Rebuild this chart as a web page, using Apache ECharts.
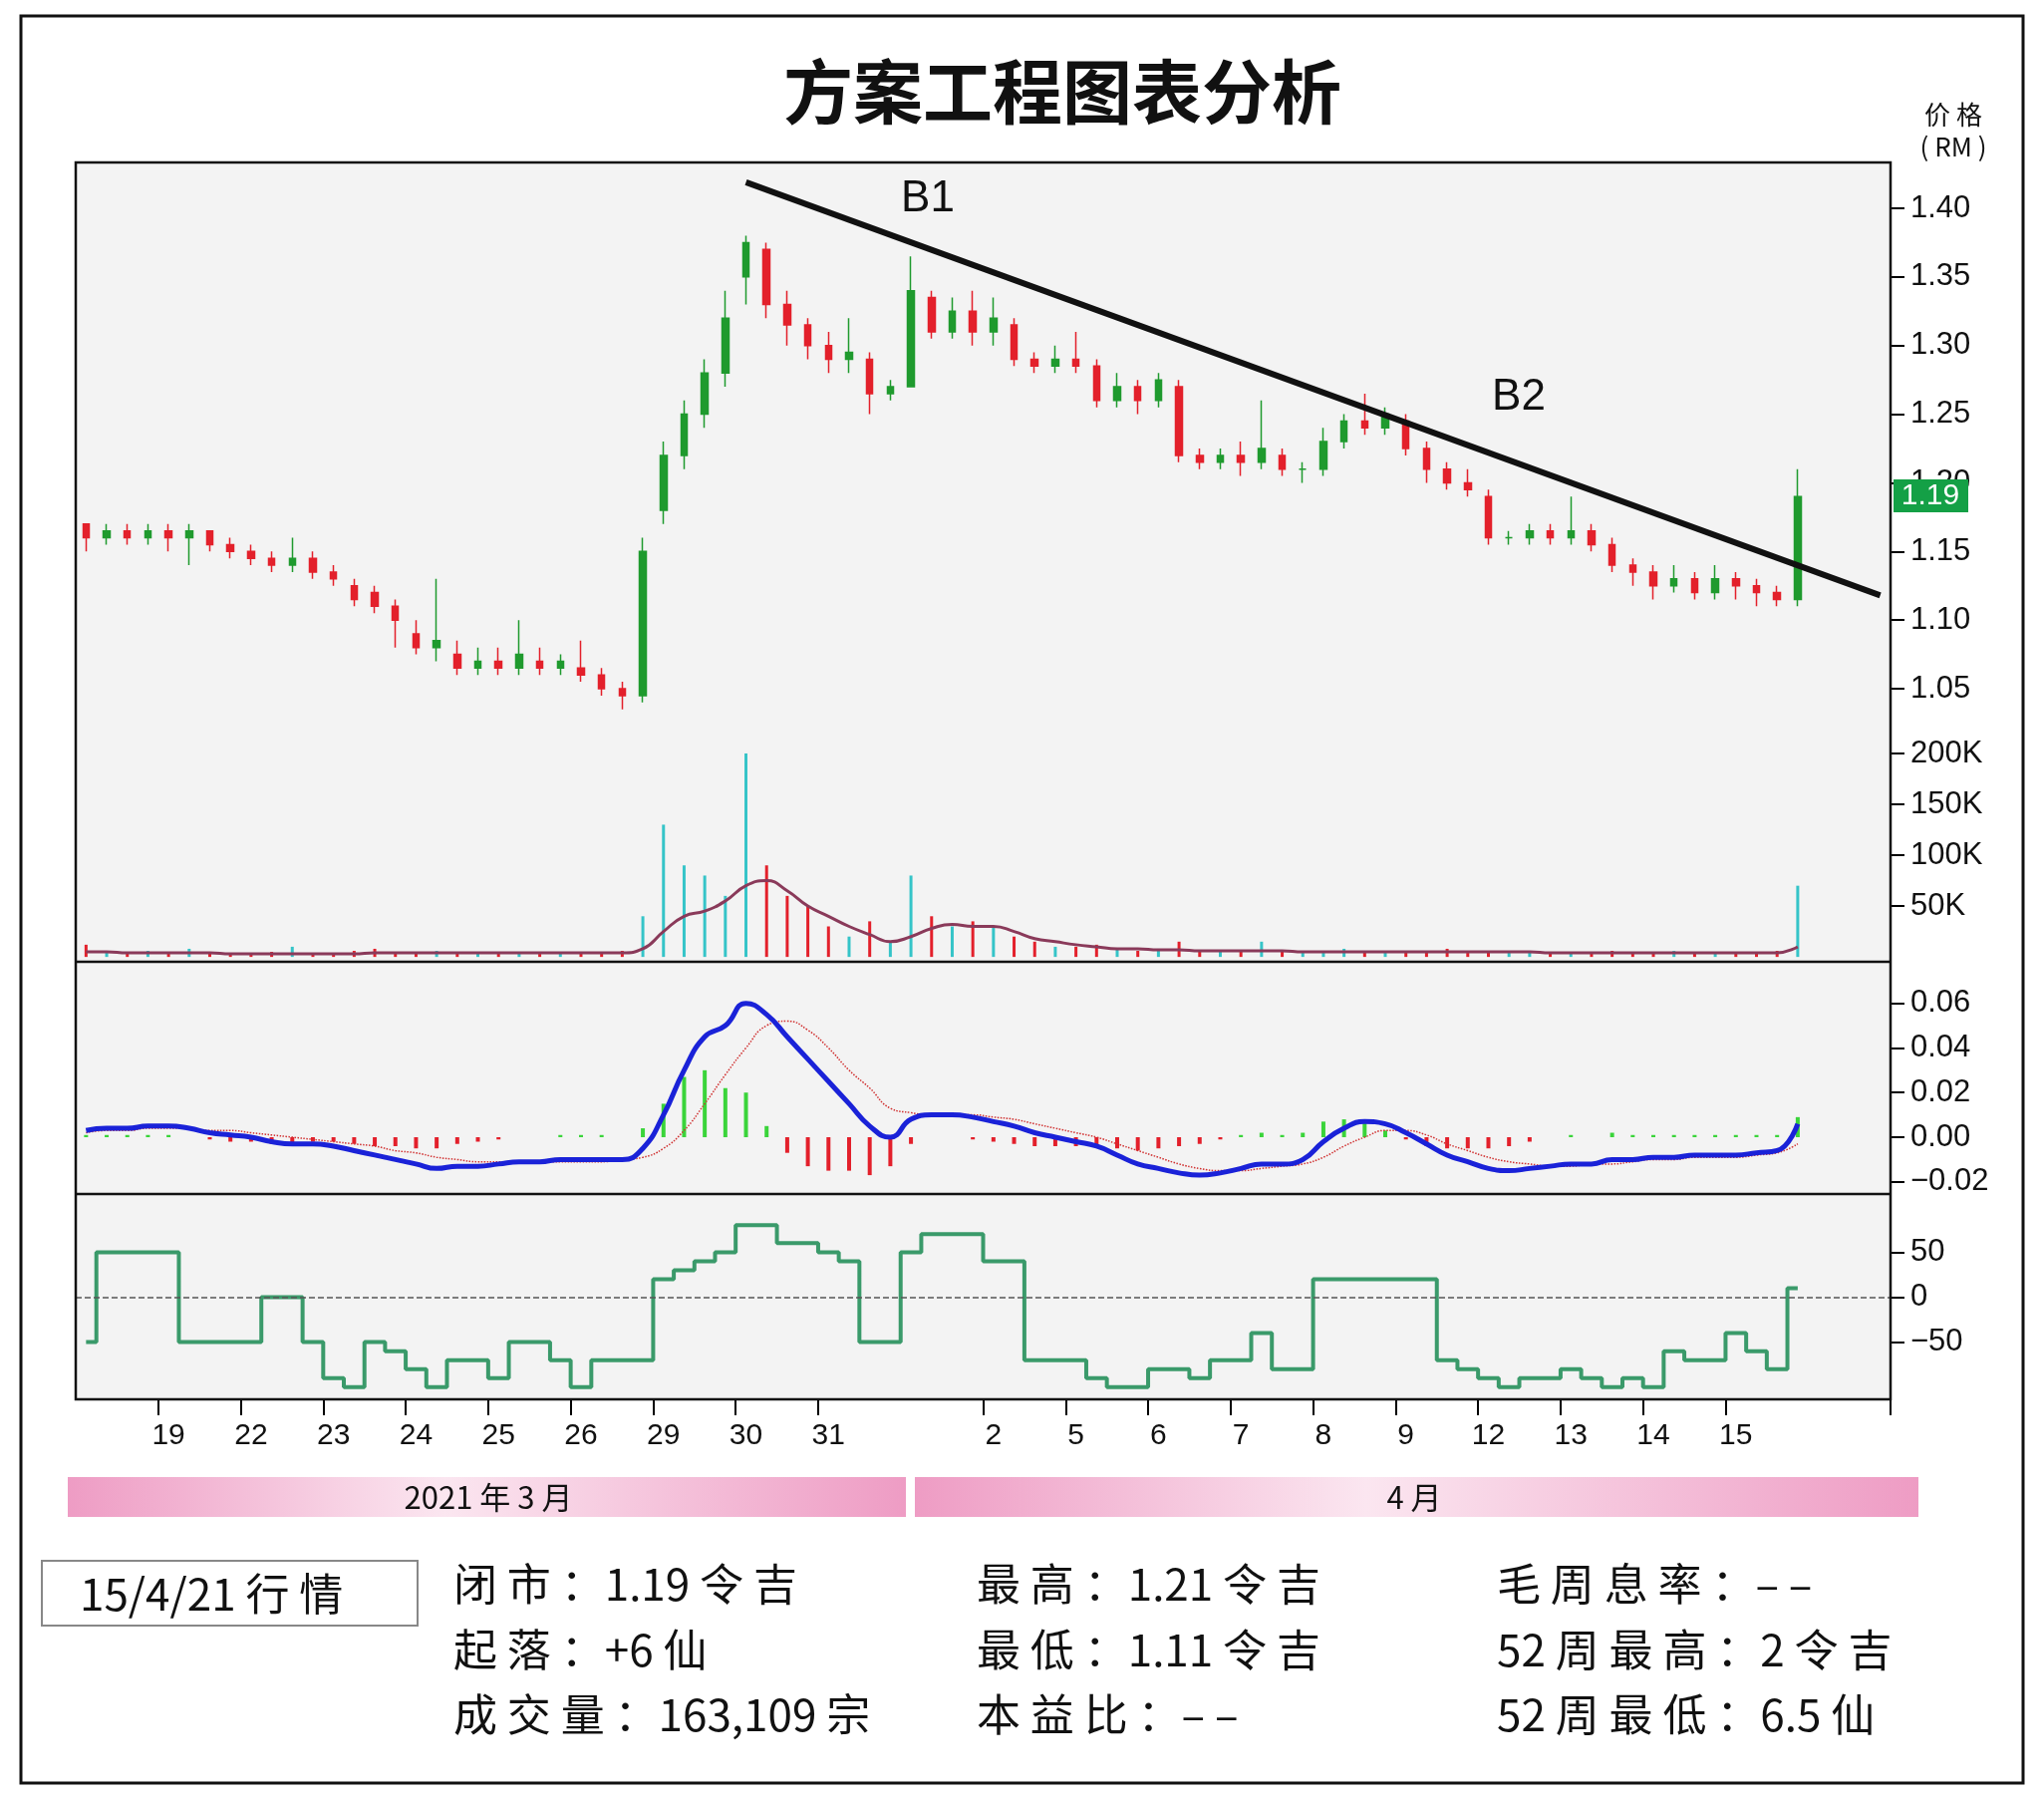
<!DOCTYPE html>
<html>
<head>
<meta charset="utf-8">
<script src="https://cdn.jsdelivr.net/npm/echarts@6/dist/echarts.min.js"></script>
<style>
html,body{margin:0;padding:0;background:#fff;}
#main{width:2051px;height:1803px;}
</style>
</head>
<body>
<div id="main"></div>
<script>
// trading days, 4 candles per day
var days = ['18', '19', '22', '23', '24', '25', '26', '29', '30', '31', '1', '2', '5', '6', '7', '8', '9', '12', '13', '14', '15'];
var hiddenDays = ['18', '1'];

// [open, close, low, high]
var candles = [
    [1.17,1.16,1.15,1.17],[1.16,1.165,1.155,1.17],[1.165,1.16,1.155,1.17],[1.16,1.165,1.155,1.17],
    [1.165,1.16,1.15,1.17],[1.16,1.165,1.14,1.17],[1.165,1.155,1.15,1.165],[1.155,1.15,1.145,1.16],
    [1.15,1.145,1.14,1.155],[1.145,1.14,1.135,1.15],[1.14,1.145,1.135,1.16],[1.145,1.135,1.13,1.15],
    [1.135,1.13,1.125,1.14],[1.125,1.115,1.11,1.13],[1.12,1.11,1.105,1.125],[1.11,1.1,1.08,1.115],
    [1.09,1.08,1.075,1.1],[1.08,1.085,1.07,1.13],[1.075,1.065,1.06,1.085],[1.065,1.07,1.06,1.08],
    [1.07,1.065,1.06,1.08],[1.065,1.075,1.06,1.1],[1.07,1.065,1.06,1.08],[1.065,1.07,1.06,1.075],
    [1.065,1.06,1.055,1.085],[1.06,1.05,1.045,1.065],[1.05,1.045,1.035,1.055],[1.045,1.15,1.04,1.16],
    [1.18,1.22,1.17,1.23],[1.22,1.25,1.21,1.26],[1.25,1.28,1.24,1.29],[1.28,1.32,1.27,1.34],
    [1.35,1.375,1.33,1.38],[1.37,1.33,1.32,1.375],[1.33,1.315,1.3,1.34],[1.315,1.3,1.29,1.32],
    [1.3,1.29,1.28,1.31],[1.29,1.295,1.28,1.32],[1.29,1.265,1.25,1.295],[1.265,1.27,1.26,1.275],
    [1.27,1.34,1.27,1.365],[1.335,1.31,1.305,1.34],[1.31,1.325,1.305,1.335],[1.325,1.31,1.3,1.34],
    [1.31,1.32,1.3,1.335],[1.315,1.29,1.285,1.32],[1.29,1.285,1.28,1.295],[1.285,1.29,1.28,1.3],
    [1.29,1.285,1.28,1.31],[1.285,1.26,1.255,1.29],[1.26,1.27,1.255,1.28],[1.27,1.26,1.25,1.275],
    [1.26,1.275,1.255,1.28],[1.27,1.22,1.215,1.275],[1.22,1.215,1.21,1.225],[1.215,1.22,1.21,1.225],
    [1.22,1.215,1.205,1.23],[1.215,1.225,1.21,1.26],[1.22,1.21,1.205,1.225],[1.21,1.21,1.2,1.215],
    [1.21,1.23,1.205,1.24],[1.23,1.245,1.225,1.25],[1.245,1.24,1.235,1.265],[1.24,1.25,1.235,1.255],
    [1.245,1.225,1.22,1.25],[1.225,1.21,1.2,1.23],[1.21,1.2,1.195,1.215],[1.2,1.195,1.19,1.21],
    [1.19,1.16,1.155,1.195],[1.16,1.16,1.155,1.165],[1.16,1.165,1.155,1.17],[1.165,1.16,1.155,1.17],
    [1.16,1.165,1.155,1.19],[1.165,1.155,1.15,1.17],[1.155,1.14,1.135,1.16],[1.14,1.135,1.125,1.145],
    [1.135,1.125,1.115,1.14],[1.125,1.13,1.12,1.14],[1.13,1.12,1.115,1.135],[1.12,1.13,1.115,1.14],
    [1.13,1.125,1.115,1.135],[1.125,1.12,1.11,1.13],[1.12,1.115,1.11,1.125],[1.115,1.19,1.11,1.21]
];

// volume in K
var volume = [
    12,5,4,6, 5,8,4,3, 3,5,10,3, 4,6,8,5, 5,6,4,4, 4,5,3,4, 4,5,6,40,
    130,90,80,60, 200,90,60,50, 30,20,35,15, 80,40,30,35, 30,20,15,10,
    10,12,8,6, 8,15,6,5, 5,15,6,4, 4,8,6,5, 6,5,8,4, 5,4,6,4,
    4,5,6,4, 4,6,5,4, 5,4,6,70
];
var volumeMA = [
    5,5,4,4, 4,4,4,3, 3,3,3,3, 3,3,4,4, 4,4,4,4, 4,4,4,4, 4,4,4,8,
    25,40,45,55, 70,75,65,50, 40,30,22,15, 20,28,32,30, 30,25,18,15,
    12,10,8,8, 7,7,6,6, 6,6,6,5, 5,5,5,5, 5,5,5,5, 5,5,5,4,
    4,4,4,4, 4,4,4,4, 4,4,4,10
];

var macdLine = [
    .003,.004,.004,.005, .005,.004,.002,.001, 0,-.002,-.003,-.003, -.004,-.006,-.008,-.01,
    -.012,-.014,-.013,-.013, -.012,-.011,-.011,-.01, -.01,-.01,-.01,-.005,
    .01,.03,.045,.05, .06,.055,.045,.035, .025,.015,.005,0, .008,.01,.01,.009,
    .007,.005,.002,0, -.002,-.004,-.008,-.012, -.014,-.016,-.017,-.016, -.014,-.012,-.012,-.01,
    -.002,.004,.007,.006, .002,-.003,-.008,-.011, -.014,-.015,-.014,-.013, -.012,-.012,-.01,-.01,
    -.009,-.009,-.008,-.008, -.008,-.007,-.006,.006
];
var signalLine = [
    .002,.003,.003,.004, .004,.004,.003,.003, .002,.001,0,-.001, -.002,-.003,-.004,-.006,
    -.007,-.009,-.01,-.011, -.011,-.011,-.011,-.011, -.011,-.011,-.01,-.009,
    -.005,.003,.015,.028, .04,.05,.052,.048, .04,.03,.022,.013, .011,.01,.01,.01,
    .009,.008,.006,.004, .002,0,-.003,-.006, -.009,-.012,-.014,-.015, -.015,-.014,-.013,-.012,
    -.009,-.004,0,.003, .003,.001,-.003,-.006, -.009,-.011,-.012,-.013, -.013,-.012,-.012,-.011,
    -.01,-.01,-.009,-.009, -.009,-.008,-.007,-.003
];

var aroon = [
    -50,50,50,50, 50,-50,-50,-50, -50,0,0,-50, -90,-100,-50,-60, -80,-100,-70,-70,
    -90,-50,-50,-70, -100,-70,-70,-70, 20,30,40,50, 80,80,60,60, 50,40,-50,-50,
    50,70,70,70, 40,40,-70,-70, -70,-90,-100,-100, -80,-80,-90,-70, -70,-40,-80,-80,
    20,20,20,20, 20,20,-70,-80, -90,-100,-90,-90, -80,-90,-100,-90, -100,-60,-70,-70,
    -40,-60,-80,10
];

var trendLine = [[32, 1.419], [87, 1.118]];
var priceTicks = [1.05, 1.10, 1.15, 1.20, 1.25, 1.30, 1.35, 1.40];
var volTicks = [50, 100, 150, 200];
var macdTicks = [-0.02, 0, 0.02, 0.04, 0.06];
var aroonTicks = [-50, 0, 50];

var PER_DAY = 4;
var cats = [];
for (var i = 0; i < days.length * PER_DAY + 4; i++) cats.push('c' + i);

var UP = '#1f9a2e', DOWN = '#e3202b';
var isUp = candles.map(function (c) { return c[1] >= c[0]; });

function dayLabel(v, idx) {
    var d = days[Math.floor(idx / PER_DAY)];
    return (d && hiddenDays.indexOf(d) < 0) ? d : '';
}
function dayStart(idx) {
    var d = days[Math.floor(idx / PER_DAY)];
    return idx % PER_DAY === 0 && d && hiddenDays.indexOf(d) < 0;
}

var L = 76, W = 1821;
var grids = [
    {left: L, width: W, top: 163, height: 570},
    {left: L, width: W, top: 733, height: 231},
    {left: L, width: W, top: 965, height: 232},
    {left: L, width: W, top: 1198, height: 206}
];
var xAxes = grids.map(function (g, k) {
    return {
        type: 'category', gridIndex: k, data: cats, boundaryGap: true,
        axisLine: {show: false, onZero: false}, splitLine: {show: false},
        axisTick: {show: k === 3, interval: dayStart, length: 16, inside: false, lineStyle: {color: '#000', width: 2}},
        axisLabel: {show: k === 3, interval: dayStart, formatter: dayLabel, fontSize: 30, color: '#111', margin: 22, fontFamily: 'Liberation Sans'}
    };
});
function yAx(k, min, max, ticks, fmt) {
    return {
        type: 'value', gridIndex: k, position: 'right', min: min, max: max,
        splitLine: {show: false}, axisLine: {show: false},
        axisTick: {show: true, length: 14, lineStyle: {color: '#000', width: 2}, customValues: ticks},
        axisLabel: {show: true, customValues: ticks, formatter: fmt, fontSize: 31, color: '#111', margin: 20, fontFamily: 'Liberation Sans'}
    };
}
var yAxes = [
    yAx(0, 1.0195, 1.4334, priceTicks, function (v) { return v.toFixed(2); }),
    yAx(1, -3.8, 222.5, volTicks, function (v) { return v + 'K'; }),
    yAx(2, -0.025, 0.0786, macdTicks, function (v) { return (v < 0 ? '−' : '') + Math.abs(v).toFixed(2); }),
    yAx(3, -113.6, 114.7, aroonTicks, function (v) { return v < 0 ? '−' + (-v) : '' + v; })
];

var hist = macdLine.map(function (v, i) { return +(v - signalLine[i]).toFixed(4); });

var infoFont = '44px "Noto Sans CJK SC"';
function info(x, y, t) {
    return {type: 'text', x: x, y: y, style: {text: t, font: infoFont, fill: '#111', verticalAlign: 'middle', letterSpacing: 5}};
}

var option = {
    animation: false,
    backgroundColor: '#fff',
    grid: grids.map(function (g) { return Object.assign({show: true, backgroundColor: '#f3f3f3', borderWidth: 0}, g); }),
    xAxis: xAxes,
    yAxis: yAxes,
    series: [
        {
            type: 'candlestick', xAxisIndex: 0, yAxisIndex: 0, data: candles, barWidth: 7,
            itemStyle: {color: UP, color0: DOWN, borderColor: UP, borderColor0: DOWN, borderWidth: 1.5},
            markLine: {
                symbol: 'none', silent: true, label: {show: false},
                lineStyle: {color: '#111', width: 6, type: 'solid'},
                data: [[{coord: trendLine[0]}, {coord: trendLine[1]}]]
            }
        },
        {
            type: 'bar', xAxisIndex: 1, yAxisIndex: 1, barWidth: 3,
            data: volume.map(function (v, i) {
                return {value: v, itemStyle: {color: isUp[i] ? '#35c4c8' : '#e3202b'}};
            })
        },
        {
            type: 'line', xAxisIndex: 1, yAxisIndex: 1, data: volumeMA, showSymbol: false, smooth: true,
            lineStyle: {color: '#8a3a5a', width: 3}
        },
        {
            type: 'bar', xAxisIndex: 2, yAxisIndex: 2, barWidth: 4,
            data: hist.map(function (v) { return {value: v, itemStyle: {color: v >= 0 ? '#3ad43a' : '#e3202b'}}; })
        },
        {
            type: 'line', xAxisIndex: 2, yAxisIndex: 2, data: signalLine, showSymbol: false, smooth: true,
            lineStyle: {color: '#d03030', width: 1.5, type: 'dotted'}
        },
        {
            type: 'line', xAxisIndex: 2, yAxisIndex: 2, data: macdLine, showSymbol: false, smooth: true,
            lineStyle: {color: '#1a22d8', width: 5}
        },
        {
            type: 'line', xAxisIndex: 3, yAxisIndex: 3, data: aroon, showSymbol: false, step: 'middle',
            lineStyle: {color: '#3a9a6a', width: 4},
            markLine: {
                symbol: 'none', silent: true, label: {show: false},
                lineStyle: {color: '#555', width: 1.5, type: 'dashed'},
                data: [{yAxis: 0}]
            }
        }
    ],
    graphic: [
        {type: 'rect', shape: {x: 21, y: 16, width: 2009, height: 1773}, style: {fill: 'none', stroke: '#111', lineWidth: 3}, z: -1},
        {type: 'text', x: 1066, y: 92, style: {text: '方案工程图表分析', font: 'bold 70px "Noto Sans CJK SC"', fill: '#111', align: 'center', verticalAlign: 'middle', letterSpacing: 24}},
        {type: 'text', x: 1960, y: 115, style: {text: '价 格', font: '26px "Noto Sans CJK SC"', fill: '#111', align: 'center', verticalAlign: 'middle'}},
        {type: 'text', x: 1960, y: 147, style: {text: '( RM )', font: '26px "Noto Sans CJK SC"', fill: '#111', align: 'center', verticalAlign: 'middle'}},
        {type: 'rect', shape: {x: 76, y: 163, width: 1821, height: 1241}, style: {fill: 'none', stroke: '#111', lineWidth: 2.5}, z: 100},
        {type: 'line', shape: {x1: 76, y1: 965, x2: 1897, y2: 965}, style: {stroke: '#111', lineWidth: 2.5}, z: 100},
        {type: 'line', shape: {x1: 76, y1: 1198, x2: 1897, y2: 1198}, style: {stroke: '#111', lineWidth: 2.5}, z: 100},
        {type: 'text', x: 931, y: 200, style: {text: 'B1', font: '44px "Liberation Sans"', fill: '#111', align: 'center', verticalAlign: 'middle'}, z: 100},
        {type: 'text', x: 1524, y: 399, style: {text: 'B2', font: '44px "Liberation Sans"', fill: '#111', align: 'center', verticalAlign: 'middle'}, z: 100},
        {type: 'rect', shape: {x: 1900, y: 481, width: 75, height: 33}, style: {fill: '#14a046'}, z: 100},
        {type: 'text', x: 1937, y: 498, style: {text: '1.19', font: '30px "Liberation Sans"', fill: '#fff', align: 'center', verticalAlign: 'middle'}, z: 101},
        {type: 'rect', shape: {x: 68, y: 1482, width: 841, height: 40}, style: {fill: {type: 'linear', x: 0, y: 0, x2: 1, y2: 0, colorStops: [{offset: 0, color: '#ee9cc4'}, {offset: 0.45, color: '#fbe6f0'}, {offset: 1, color: '#ee9cc4'}]}}},
        {type: 'rect', shape: {x: 918, y: 1482, width: 1007, height: 40}, style: {fill: {type: 'linear', x: 0, y: 0, x2: 1, y2: 0, colorStops: [{offset: 0, color: '#ee9cc4'}, {offset: 0.45, color: '#fbe6f0'}, {offset: 1, color: '#ee9cc4'}]}}},
        {type: 'text', x: 490, y: 1502, style: {text: '2021 年 3 月', font: '31px "Noto Sans CJK SC"', fill: '#111', align: 'center', verticalAlign: 'middle', letterSpacing: 4}},
        {type: 'text', x: 1419, y: 1502, style: {text: '4 月', font: '31px "Noto Sans CJK SC"', fill: '#111', align: 'center', verticalAlign: 'middle', letterSpacing: 4}},
        {type: 'rect', shape: {x: 42, y: 1566, width: 377, height: 65}, style: {fill: '#fff', stroke: '#888', lineWidth: 2}},
        info(80, 1599, '15/4/21 行 情'),
        info(455, 1589, '闭 市 ：1.19 令 吉'),
        info(455, 1655, '起 落 ：+6 仙'),
        info(455, 1720, '成 交 量 ：163,109 宗'),
        info(980, 1589, '最 高 ：1.21 令 吉'),
        info(980, 1655, '最 低 ：1.11 令 吉'),
        info(980, 1720, '本 益 比 ：– –'),
        info(1502, 1589, '毛 周 息 率 ：– –'),
        info(1502, 1655, '52 周 最 高 ：2 令 吉'),
        info(1502, 1720, '52 周 最 低 ：6.5 仙')
    ]
};

var myChart = echarts.init(document.getElementById('main'));
myChart.setOption(option);
</script>
</body>
</html>
